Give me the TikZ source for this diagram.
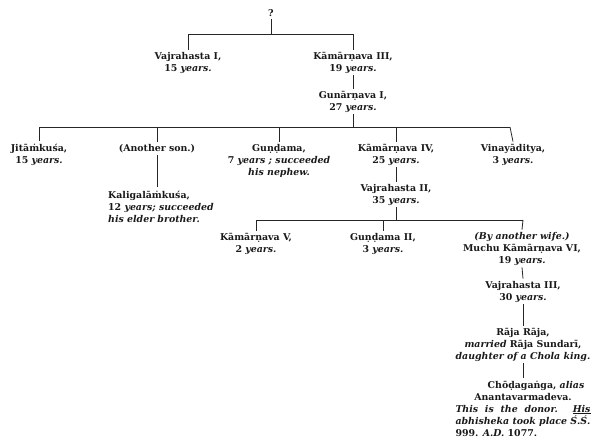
\documentclass[tikz,border=0pt]{standalone}
\usepackage{fontspec}
\setmainfont{DejaVu Serif}
\begin{document}
\begin{tikzpicture}[x=1pt,y=-1pt,
  nm/.style={font=\fontsize{9.4}{12}\selectfont\bfseries, align=center, anchor=base, inner sep=2pt, text=black!90},
  ln/.style={line width=0.8pt, draw=black!85}]
\useasboundingbox (0,0) rectangle (592,440);
% nodes (anchor base = baseline of last line)
\node[nm] (q) at (271,16.5) {?};
\node[nm] (vaj1) at (188,71) {Vajrahasta I,\\15 \textit{years.}};
\node[nm] (kam3) at (353,71) {Kāmārṇava III,\\19 \textit{years.}};
\node[nm] (gun1) at (353,110) {Gunārṇava I,\\27 \textit{years.}};
\node[nm] (jit) at (39,163) {Jitāṁkuśa,\\15 \textit{years.}};
\node[nm] (ano) at (157,151) {(Another son.)};
\node[nm, align=left, anchor=base west] (kal) at (106,222) {Kaligalāṁkuśa,\\12 \textit{years; succeeded}\\\textit{his elder brother.}};
\node[nm] (gdm) at (279,175) {Guṇḍama,\\7 \textit{years ; succeeded}\\\textit{his nephew.}};
\node[nm] (kam4) at (396,163) {Kāmārṇava IV,\\25 \textit{years.}};
\node[nm] (vin) at (513,163) {Vinayāditya,\\3 \textit{years.}};
\node[nm] (vaj2) at (396,203) {Vajrahasta II,\\35 \textit{years.}};
\node[nm] (kam5) at (256,252) {Kāmārṇava V,\\2 \textit{years.}};
\node[nm] (gdm2) at (383,252) {Guṇḍama II,\\3 \textit{years.}};
\node[nm] (much) at (522,263) {\textit{(By another wife.)}\\Muchu Kāmārṇava VI,\\19 \textit{years.}};
\node[nm] (vaj3) at (523,300) {Vajrahasta III,\\30 \textit{years.}};
\node[nm] (raja) at (523,359) {Rāja Rāja,\\\textit{married} Rāja Sundarī,\\\textit{daughter of a Chola king.}};
\node[nm] (chod) at (523,436) {\makebox[135pt]{\hspace{26pt}Chōḍagaṅga, \textit{alias}}\\
  Anantavarmadeva.\\
  \makebox[135pt][s]{\textit{This is the donor.} \underline{\textit{His}}}\\
  \makebox[135pt][s]{\textit{abhisheka took place Ś.Ś.}}\\
  \makebox[135pt][l]{999. \textit{A.D.} 1077.}};
% bracket coordinates
\coordinate (b1L) at (188,34);
\coordinate (b1M) at (271,34);
\coordinate (b1R) at (353,34);
\coordinate (b2L) at (39,127);
\coordinate (b2a) at (157,127);
\coordinate (b2b) at (279,127);
\coordinate (b2M) at (353,127);
\coordinate (b2c) at (396,127);
\coordinate (b2R) at (510,127);
\coordinate (kalT) at (157,187);
\coordinate (b3L) at (256,220);
\coordinate (b3a) at (383,220);
\coordinate (b3M) at (396,220);
\coordinate (b3R) at (523,220);
% connectors
\draw[ln] (q.south) -- (b1M);
\draw[ln] (b1L) -- (b1R);
\draw[ln] (b1L) -- (vaj1.north);
\draw[ln] (b1R) -- (kam3.north);
\draw[ln] (kam3.south) -- (gun1.north);
\draw[ln] (gun1.south) -- (b2M);
\draw[ln] (b2L) -- (b2R);
\draw[ln] (b2L) -- (jit.north);
\draw[ln] (b2a) -- (ano.north);
\draw[ln] (b2b) -- (gdm.north);
\draw[ln] (b2c) -- (kam4.north);
\draw[ln] (b2R) -- (vin.north);
\draw[ln] (ano.south) -- (kalT);
\draw[ln] (kam4.south) -- (vaj2.north);
\draw[ln] (vaj2.south) -- (b3M);
\draw[ln] (b3L) -- (b3R);
\draw[ln] (b3L) -- (kam5.north);
\draw[ln] (b3a) -- (gdm2.north);
\draw[ln] (b3R) -- (much.north);
\draw[ln] (much.south) -- (vaj3.north);
\draw[ln] (vaj3.south) -- (raja.north);
\draw[ln] (raja.south) -- (chod.north);
\end{tikzpicture}
\end{document}
